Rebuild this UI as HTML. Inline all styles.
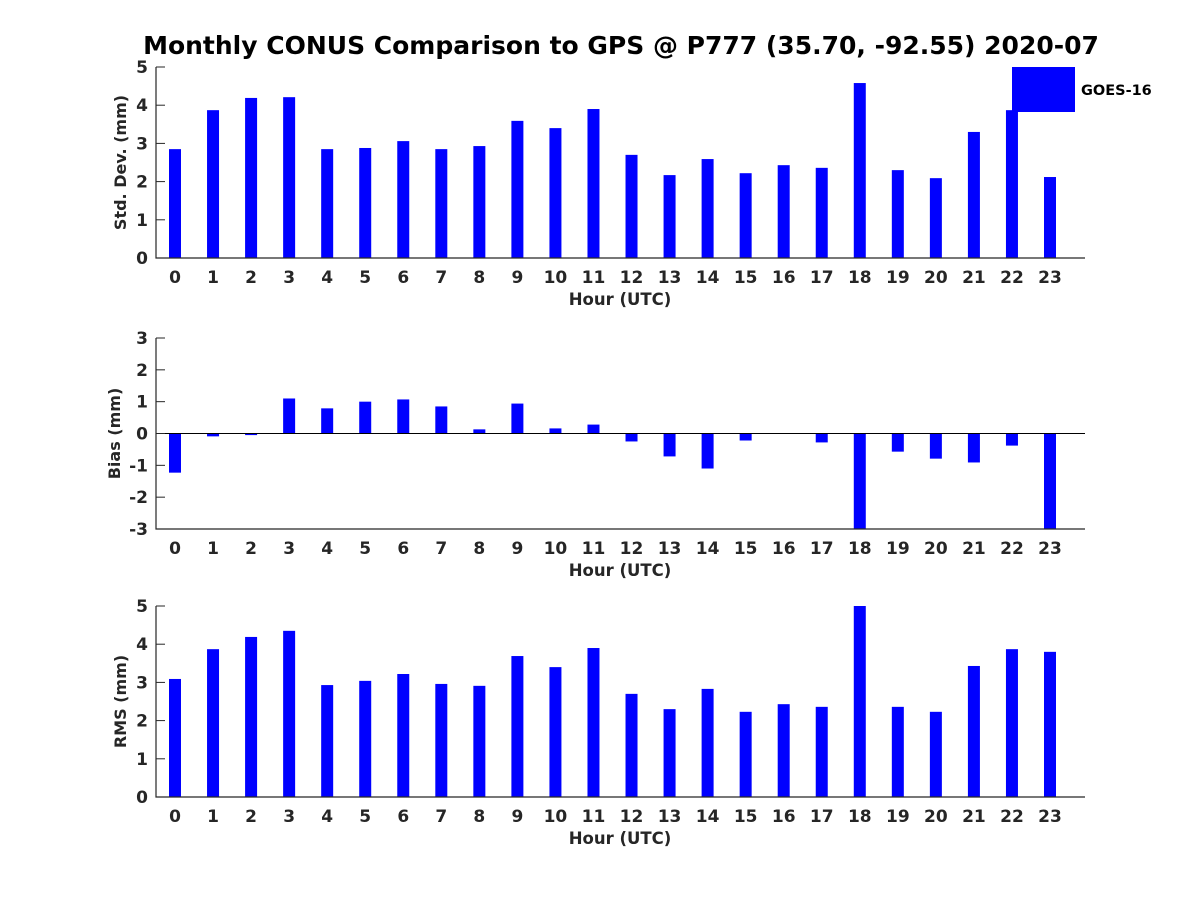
<!DOCTYPE html>
<html><head><meta charset="utf-8"><style>
body{margin:0;background:#fff;}
svg{display:block;font-family:"DejaVu Sans","Liberation Sans",sans-serif;font-weight:bold;}
</style></head><body>
<svg id="chart" width="1200" height="900" xmlns="http://www.w3.org/2000/svg">
<rect width="1200" height="900" fill="#fff"/>
<text x="621" y="54" text-anchor="middle" font-size="25" fill="#000">Monthly CONUS Comparison to GPS @ P777 (35.70, -92.55) 2020-07</text>
<g id="plots"></g>
<rect x="1012" y="67" width="63" height="45" fill="#0000ff"/>
<text x="1081" y="95" font-size="14.5" fill="#000">GOES-16</text>
</svg>
<script>
const hours = [0,1,2,3,4,5,6,7,8,9,10,11,12,13,14,15,16,17,18,19,20,21,22,23];
const stdValues = [2.85,3.87,4.19,4.21,2.85,2.88,3.06,2.85,2.93,3.59,3.40,3.90,2.70,2.17,2.59,2.22,2.43,2.36,4.58,2.30,2.09,3.30,3.87,2.12];
const biasValues = [-1.23,-0.09,-0.05,1.10,0.79,1.00,1.07,0.85,0.13,0.94,0.16,0.28,-0.25,-0.72,-1.10,-0.22,0.0,-0.28,-3.5,-0.57,-0.79,-0.91,-0.38,-3.15];
const rmsValues = [3.09,3.87,4.19,4.35,2.93,3.04,3.22,2.96,2.91,3.69,3.40,3.90,2.70,2.30,2.83,2.23,2.43,2.36,5.2,2.36,2.23,3.43,3.87,3.80];
const stdTicks = [0,1,2,3,4,5];
const biasTicks = [-3,-2,-1,0,1,2,3];
const rmsTicks = [0,1,2,3,4,5];

const NS = "http://www.w3.org/2000/svg";
const root = document.getElementById('plots');
function mk(tag, attrs, parent){const e=document.createElementNS(NS,tag);for(const k in attrs)e.setAttribute(k,attrs[k]);parent.appendChild(e);return e;}
const xL=156, xR=1085;
function xPos(h){return 175 + h*(1050-175)/23;}

function panel(name, values, ticks, yMin, yMax, top, bottom, ylabel, ylx){
  const g = mk('g',{},root);
  
  
  const yPos = v => bottom - (v - yMin)/(yMax - yMin)*(bottom-top);
  const clip = v => Math.max(yMin, Math.min(yMax, v));
  const zero = yPos(clip(0));
  values.forEach((v,i)=>{
    const y = yPos(clip(v));
    const r = mk('rect',{x:xPos(hours[i])-6,y:Math.min(y,zero),width:12,height:Math.abs(zero-y),fill:'#0000ff'},g);
    
    
  });
  const ax = mk('path',{d:`M${xL} ${top}V${bottom}H${xR}`,stroke:'#262626','stroke-width':1.2,fill:'none'},g);
  
  
  if(yMin<0 && yMax>0){
    const zl = mk('line',{x1:xL,x2:xR,y1:zero,y2:zero,stroke:'#000','stroke-width':1},g);
    
    
  }
  ticks.forEach(t=>{
    const y=yPos(t);
    mk('line',{x1:xL,x2:xL+9,y1:y,y2:y,stroke:'#262626','stroke-width':1},g);
    const tx = mk('text',{x:xL-8,y:y+6,'text-anchor':'end','font-size':17,fill:'#262626'},g);
    tx.textContent=t;
    
    
  });
  hours.forEach(h=>{
    const tx = mk('text',{x:xPos(h),y:bottom+25,'text-anchor':'middle','font-size':17,fill:'#262626'},g);
    tx.textContent=h;
    
    
  });
  const xl = mk('text',{x:620,y:bottom+47,'text-anchor':'middle','font-size':16.5,fill:'#262626'},g);
  xl.textContent='Hour (UTC)';
  
  
  const my=(top+bottom)/2;
  const yl = mk('text',{x:ylx,y:my,'text-anchor':'middle','font-size':16,fill:'#262626',transform:`rotate(-90 ${ylx} ${my})`},g);
  yl.textContent=ylabel;
  
  
}
panel('std', stdValues, stdTicks, 0, 5, 67, 258, 'Std. Dev. (mm)', 126);
panel('bias', biasValues, biasTicks, -3, 3, 338, 529, 'Bias (mm)', 120);
panel('rms', rmsValues, rmsTicks, 0, 5, 606, 797, 'RMS (mm)', 126);
</script>
</body></html>
